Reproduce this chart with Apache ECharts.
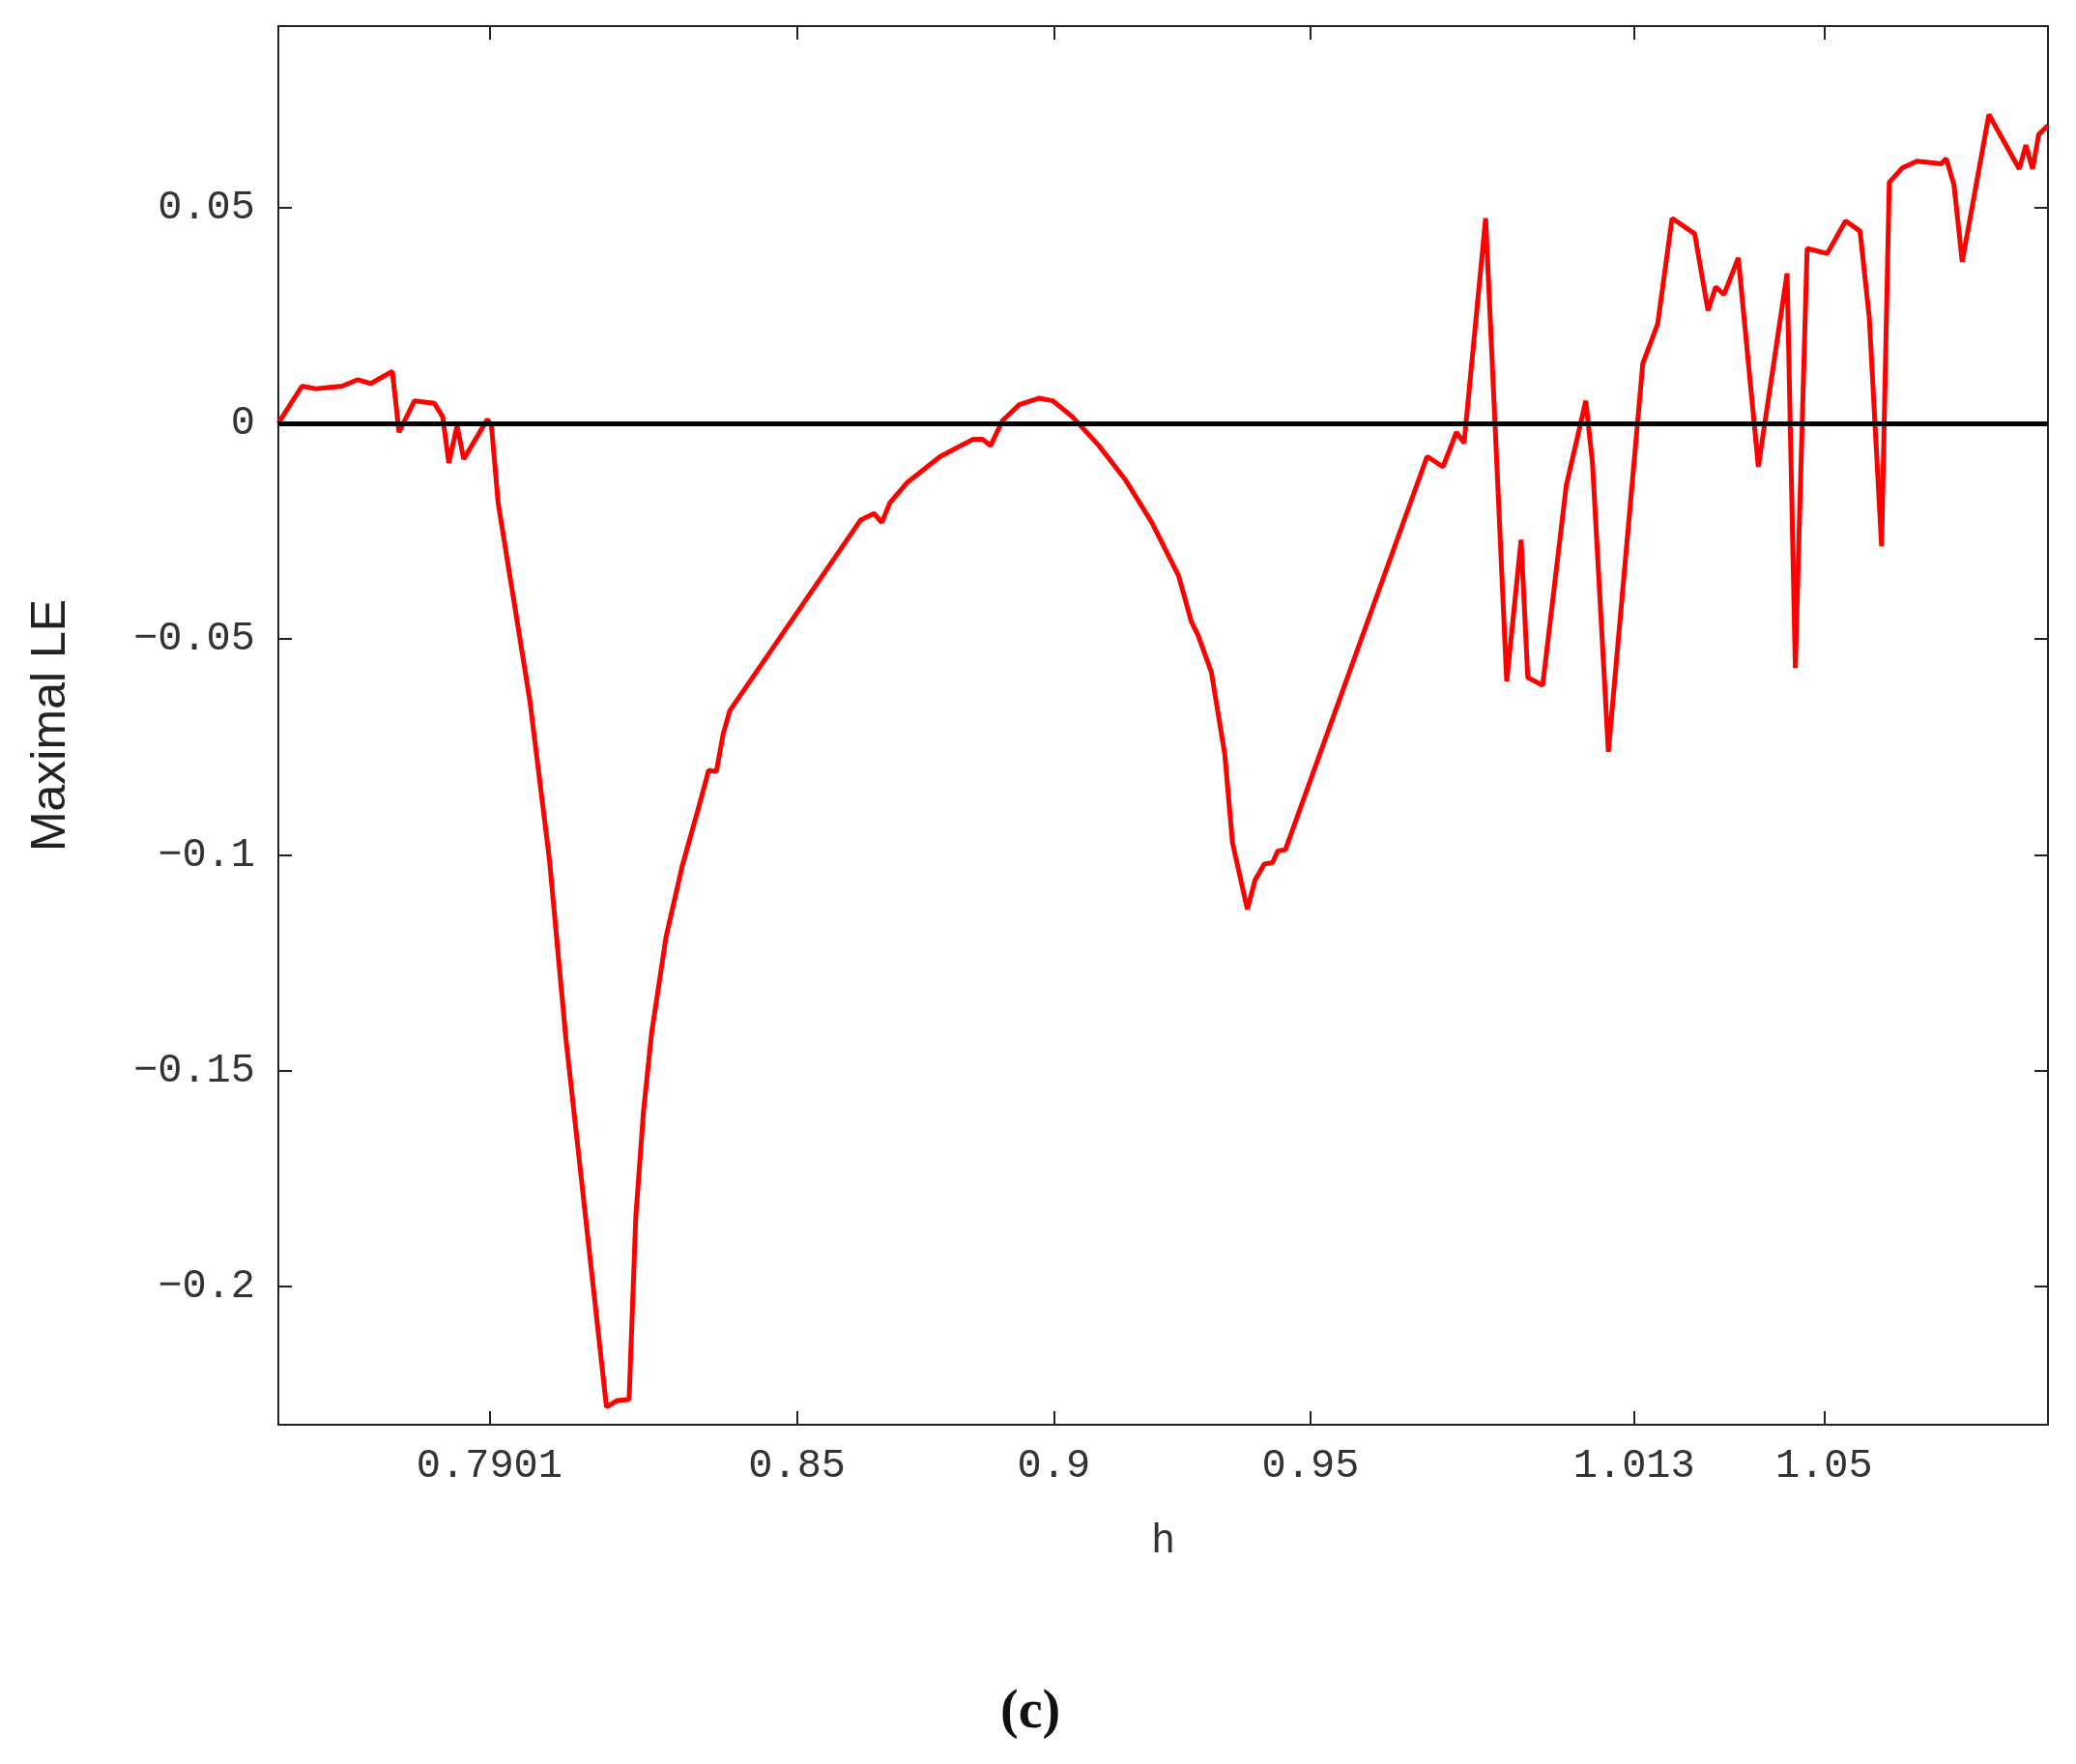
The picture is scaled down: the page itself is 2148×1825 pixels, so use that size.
<!DOCTYPE html><html><head><meta charset="utf-8"><script src="https://cdn.jsdelivr.net/npm/echarts@6/dist/echarts.min.js"></script></head><body style="margin:0;background:#fff"><div id="c" style="width:2148px;height:1825px"></div><script>
const hValues=[0.749,0.7536,0.7562,0.7614,0.7645,0.767,0.7712,0.7725,0.7755,0.7794,0.781,0.7822,0.7838,0.7851,0.7897,0.7905,0.7918,0.798,0.8018,0.805,0.8129,0.815,0.8173,0.8186,0.8201,0.8217,0.8245,0.8276,0.8307,0.8328,0.8343,0.8356,0.8369,0.8624,0.865,0.8665,0.8681,0.8714,0.8779,0.8843,0.8861,0.8877,0.89,0.8933,0.8972,0.8998,0.9036,0.9088,0.914,0.9191,0.9243,0.9268,0.9281,0.9307,0.9333,0.9348,0.9377,0.9392,0.941,0.9426,0.9436,0.9451,0.9727,0.9758,0.9784,0.9799,0.9841,0.9882,0.991,0.9923,0.9952,0.9998,1.0036,1.0049,1.008,1.0147,1.0176,1.0204,1.0248,1.0274,1.0289,1.0305,1.0333,1.0372,1.0428,1.0444,1.0467,1.0506,1.0542,1.057,1.0588,1.0612,1.0627,1.0653,1.0681,1.0728,1.0738,1.0753,1.0769,1.0821,1.088,1.0893,1.0906,1.0918,1.0936];
const leValues=[0,0.0086,0.008,0.0086,0.0101,0.0092,0.012,-0.0021,0.0052,0.0046,0.0015,-0.0092,-0.0006,-0.0083,0.0009,-0.0006,-0.0184,-0.0644,-0.1012,-0.1426,-0.2279,-0.2264,-0.2261,-0.184,-0.1595,-0.1411,-0.119,-0.1028,-0.0896,-0.0804,-0.0807,-0.0721,-0.0666,-0.0224,-0.0209,-0.023,-0.0184,-0.0138,-0.0077,-0.0037,-0.0037,-0.0052,0.0006,0.0043,0.0058,0.0052,0.0015,-0.0052,-0.0132,-0.023,-0.0353,-0.046,-0.0491,-0.0577,-0.0767,-0.0972,-0.1126,-0.1058,-0.1021,-0.1018,-0.0991,-0.0988,-0.0077,-0.0101,-0.0021,-0.0046,0.0475,-0.0598,-0.027,-0.0589,-0.0607,-0.0144,0.0052,-0.0092,-0.0761,0.0138,0.023,0.0475,0.0439,0.0261,0.0316,0.0298,0.0383,-0.0101,0.0347,-0.0567,0.0405,0.0393,0.0469,0.0445,0.0245,-0.0285,0.0558,0.0592,0.0607,0.0601,0.0613,0.0552,0.0374,0.0715,0.0589,0.0644,0.0589,0.0669,0.069];
const xTicks=[0.7901,0.85,0.9,0.95,1.013,1.05];
const yTicks=[-0.2,-0.15,-0.1,-0.05,0,0.05];
const mono='"Liberation Mono", monospace';
const fmtY=v=>v===0?'0':String(v).replace('-','\u2212');
const tick={show:true,inside:true,length:14,lineStyle:{color:'#222',width:2}};
const line={show:true,onZero:false,lineStyle:{color:'#222',width:2}};
const ch=echarts.init(document.getElementById('c'));
ch.setOption({animation:false,
grid:{left:288,right:29,top:27,bottom:351,show:false},
xAxis:[{type:'value',min:0.749,max:1.0936,axisLine:line,splitLine:{show:false},
 axisTick:Object.assign({customValues:xTicks},tick),
 axisLabel:{customValues:xTicks,formatter:v=>String(v),fontFamily:mono,fontSize:42,color:'#333',margin:22},
 name:'h',nameLocation:'middle',nameGap:100,nameTextStyle:{fontFamily:mono,fontSize:42,color:'#333'}},
 {type:'value',position:'top',min:0.749,max:1.0936,axisLine:line,axisTick:Object.assign({customValues:xTicks},tick),axisLabel:{show:false},splitLine:{show:false}}],
yAxis:[{type:'value',min:-0.232,max:0.092,axisLine:line,splitLine:{show:false},
 axisTick:Object.assign({customValues:yTicks},tick),
 axisLabel:{customValues:yTicks,formatter:fmtY,fontFamily:mono,fontSize:42,color:'#333',margin:24},
 name:'Maximal LE',nameLocation:'middle',nameGap:210,nameTextStyle:{fontFamily:'"Liberation Sans", Arial',fontSize:50,color:'#222'}},
 {type:'value',position:'right',min:-0.232,max:0.092,axisLine:line,axisTick:Object.assign({customValues:yTicks},tick),axisLabel:{show:false},splitLine:{show:false}}],
graphic:[{type:'text',left:1035,top:1745,style:{text:'(c)',font:'bold 56px "Liberation Serif", serif',fill:'#111'}}],
series:[{type:'line',data:hValues.map((h,i)=>[h,leValues[i]]),showSymbol:false,lineStyle:{color:'#ff0000',width:5},
 markLine:{silent:true,symbol:'none',label:{show:false},lineStyle:{color:'#000',width:5,type:'solid'},data:[{yAxis:0}]}}]
});
</script></body></html>
